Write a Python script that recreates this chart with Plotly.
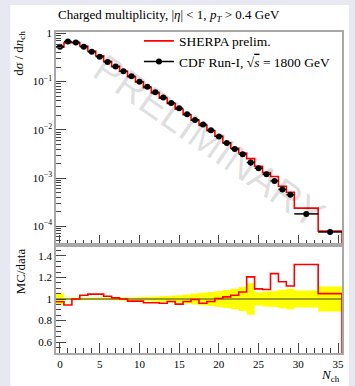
import plotly.graph_objects as go

# ---- data ----
bin_edges = [-0.5 + i for i in range(31)] + [32.5, 35.5]
data_vals = [0.53, 0.68, 0.65, 0.53, 0.415, 0.33, 0.257, 0.205, 0.164, 0.129,
             0.100, 0.078, 0.060, 0.047, 0.036, 0.028, 0.021, 0.016, 0.0129, 0.0098,
             0.0073, 0.0053, 0.0040, 0.0031, 0.0021, 0.0016, 0.0012, 0.00087, 0.00058, 0.00045,
             0.00018, 0.000076]
data_relerr = [0.055, 0.012, 0.010, 0.010, 0.010, 0.010, 0.010, 0.012, 0.013, 0.015,
               0.017, 0.019, 0.022, 0.026, 0.030, 0.035, 0.042, 0.050, 0.057, 0.065,
               0.073, 0.083, 0.095, 0.110, 0.145, 0.060, 0.070, 0.075, 0.085, 0.094,
               0.078, 0.116]
mc_ratio = [0.975, 0.945, 1.000, 1.035, 1.045, 1.045, 1.025, 1.010, 1.000, 0.980,
            0.980, 0.965, 0.965, 0.960, 0.977, 0.953, 0.977, 0.995, 0.960, 0.977,
            1.005, 1.020, 1.035, 1.065, 1.205, 1.094, 1.088, 1.235, 1.160, 1.120,
            1.320, 1.050]
y_tickvals = [1e-4, 1e-3, 1e-2, 1e-1, 1]
y_ticktext = ["10<sup>\u22124</sup>", "10<sup>\u22123</sup>", "10<sup>\u22122</sup>", "10<sup>\u22121</sup>", "1"]
r_tickvals = [0.6, 0.8, 1.0, 1.2, 1.4]
r_ticktext = ["0.6", "0.8", "1", "1.2", "1.4"]
x_tickvals = [0, 5, 10, 15, 20, 25, 30, 35]

nb = len(data_vals)
mc_vals = [d * r for d, r in zip(data_vals, mc_ratio)]
centers = [(bin_edges[i] + bin_edges[i + 1]) / 2 for i in range(nb)]
halfw = [(bin_edges[i + 1] - bin_edges[i]) / 2 for i in range(nb)]
data_abserr = [d * e for d, e in zip(data_vals, data_relerr)]

SERIF = "Liberation Serif"
RED = "#ff0000"
FRAME = "#a8a8a8"
TICKC = "#444444"

fig = go.Figure()

# MC histogram (upper)
fig.add_trace(go.Scatter(
    x=bin_edges + [bin_edges[-1]], y=mc_vals + [mc_vals[-1], 1e-8],
    mode="lines", line=dict(color=RED, width=1.6, shape="hv"),
    name="SHERPA prelim.", xaxis="x", yaxis="y"))
# data legend entry
fig.add_trace(go.Scatter(
    x=[None], y=[None], mode="lines+markers",
    line=dict(color="black", width=1.5), marker=dict(color="black", size=6),
    name="CDF Run-I, \u221a<span style='text-decoration:overline'><i>s</i></span> = 1800 GeV",
    xaxis="x", yaxis="y"))
# data points
fig.add_trace(go.Scatter(
    x=centers, y=data_vals, mode="markers",
    marker=dict(color="black", size=6),
    error_x=dict(type="data", array=halfw, color="black", thickness=1.5, width=0),
    error_y=dict(type="data", array=data_abserr, color="black", thickness=1.5, width=0),
    showlegend=False, xaxis="x", yaxis="y"))

# ratio band
bx, by = [], []
for i in range(nb):
    bx += [bin_edges[i], bin_edges[i + 1]]
    by += [1 + data_relerr[i]] * 2
for i in reversed(range(nb)):
    bx += [bin_edges[i + 1], bin_edges[i]]
    by += [1 - data_relerr[i]] * 2
fig.add_trace(go.Scatter(x=bx, y=by, fill="toself", fillcolor="#ffff00",
                         line=dict(width=0), mode="lines", showlegend=False,
                         xaxis="x2", yaxis="y2", hoverinfo="skip"))
fig.add_trace(go.Scatter(x=[bin_edges[0], bin_edges[-1]], y=[1, 1], mode="lines",
                         line=dict(color="#7d7d2e", width=1.4), showlegend=False,
                         xaxis="x2", yaxis="y2"))
fig.add_trace(go.Scatter(
    x=bin_edges + [bin_edges[-1]], y=mc_ratio + [mc_ratio[-1], 0.0],
    mode="lines", line=dict(color=RED, width=1.6, shape="hv"),
    showlegend=False, xaxis="x2", yaxis="y2"))

split = (353 - 245) / 321
axcommon = dict(showline=True, mirror=True, linecolor=FRAME, linewidth=1.5,
                ticks="inside", tickcolor=TICKC, ticklen=10, tickwidth=1,
                showgrid=False, zeroline=False,
                tickfont=dict(family=SERIF, size=11, color="black"))
minor_log = [k * 10.0 ** e for e in range(-5, 1) for k in range(2, 10)]

fig.update_layout(
    width=355, height=386,
    margin=dict(l=56, r=11, t=32, b=33),
    paper_bgcolor="#e8e8f2", plot_bgcolor="white",
    showlegend=True,
    legend=dict(x=0.29, y=1.02, xanchor="left", yanchor="top",
                bgcolor="rgba(0,0,0,0)", font=dict(family=SERIF, size=13.5, color="black"),
                tracegroupgap=0),
    xaxis=dict(domain=[0, 1], anchor="y", range=[-0.5, 35.5], tickvals=x_tickvals,
               showticklabels=False, matches="x2",
               minor=dict(dtick=1, ticks="inside", ticklen=5, tickcolor=TICKC), **axcommon),
    yaxis=dict(domain=[split, 1], anchor="x", type="log", range=[-4.39, 0.03],
               tickvals=y_tickvals, ticktext=y_ticktext,
               minor=dict(tickvals=minor_log, ticks="inside", ticklen=5, tickcolor=TICKC),
               **axcommon),
    xaxis2=dict(domain=[0, 1], anchor="y2", range=[-0.5, 35.5], tickvals=x_tickvals,
                minor=dict(dtick=1, ticks="inside", ticklen=5, tickcolor=TICKC), **axcommon),
    yaxis2=dict(domain=[0, split], anchor="x2", range=[0.5, 1.5],
                tickvals=r_tickvals, ticktext=r_ticktext,
                minor=dict(dtick=0.05, ticks="inside", ticklen=5, tickcolor=TICKC),
                **axcommon),
    shapes=[dict(type="rect", xref="paper", yref="paper", layer="below",
                 x0=(10 - 56) / 288, x1=(351 - 56) / 288,
                 y0=-0.3, y1=(353 - 5) / 321,
                 fillcolor="white", line=dict(width=0))],
    annotations=[
        dict(text="PRELIMINARY", xref="paper", yref="paper", x=0.535, y=0.66,
             showarrow=False, textangle=35,
             font=dict(family="Liberation Sans", size=40, color="rgba(0,0,0,0.13)")),
        dict(text="Charged multiplicity, |<i>\u03b7</i>| < 1, <i>p</i><sub><i>T</i></sub> > 0.4 GeV",
             xref="paper", yref="paper", x=0.0, y=(353 - 15) / 321,
             xanchor="left", yanchor="middle", showarrow=False,
             font=dict(family=SERIF, size=13, color="black")),
        dict(text="d<i>\u03c3</i> / d<i>n</i><sub>ch</sub>", xref="paper", yref="paper",
             x=(19 - 56) / 288, y=(353 - 29) / 321, xanchor="center", yanchor="top",
             textangle=-90, showarrow=False,
             font=dict(family=SERIF, size=13, color="black")),
        dict(text="MC/data", xref="paper", yref="paper",
             x=(20 - 56) / 288, y=(353 - 246) / 321, xanchor="center", yanchor="top",
             textangle=-90, showarrow=False,
             font=dict(family=SERIF, size=13, color="black")),
        dict(text="<i>N</i><sub>ch</sub>", xref="paper", yref="paper",
             x=1.0, y=(353 - 376) / 321, xanchor="right", yanchor="middle",
             showarrow=False, font=dict(family=SERIF, size=13, color="black")),
    ],
)

fig.write_html("out.html", config={"displayModeBar": False},
               post_script="document.body.style.margin='0px';document.body.style.overflow='hidden';")
